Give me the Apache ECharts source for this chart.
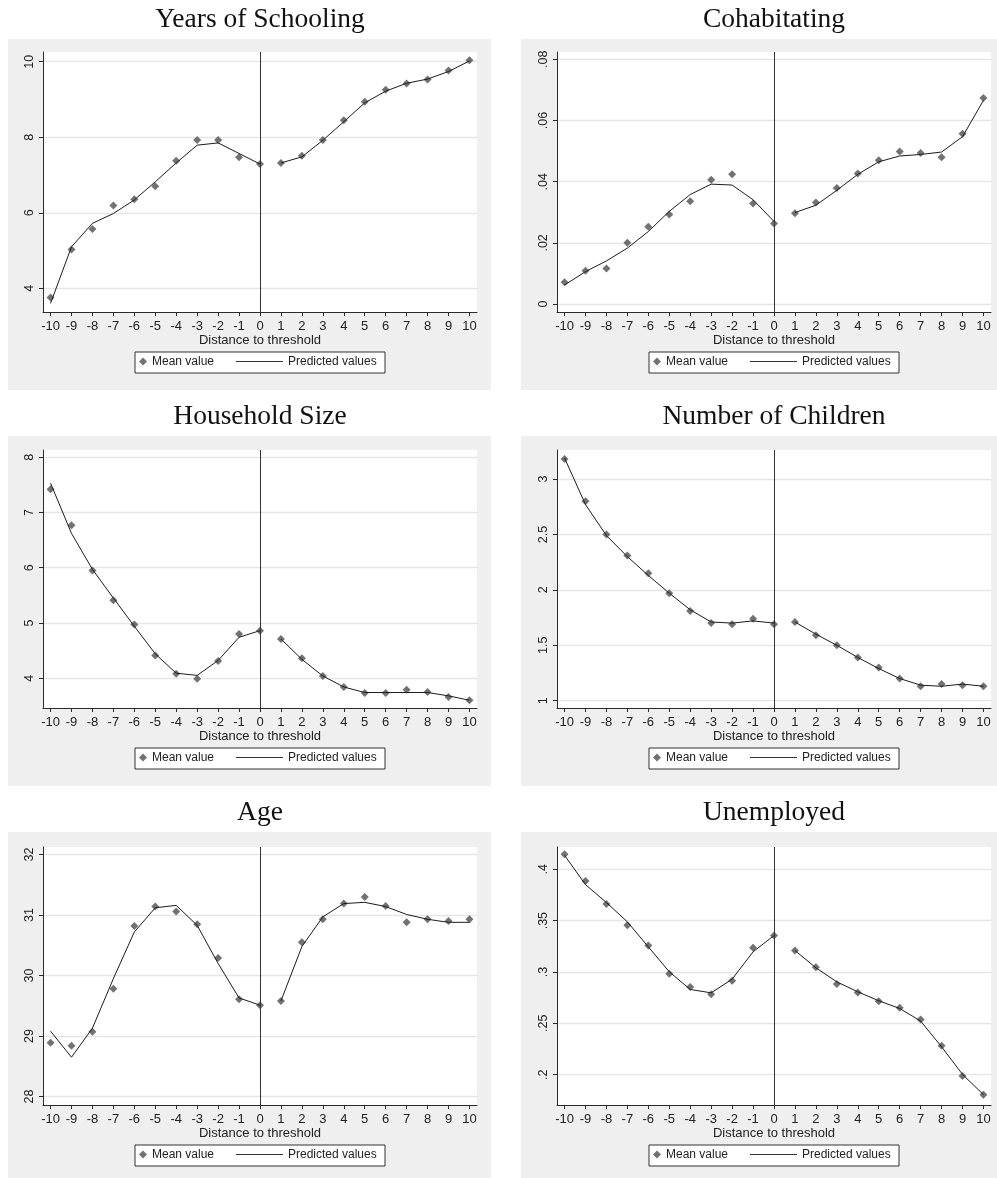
<!DOCTYPE html>
<html>
<head>
<meta charset="utf-8">
<script src="https://cdn.jsdelivr.net/npm/echarts@6/dist/echarts.min.js"></script>
<style>
  html, body { margin: 0; padding: 0; background: #ffffff; }
  #chart { width: 997px; height: 1178px; }
</style>
</head>
<body>
<div id="chart"></div>
<script>
// Distance to the eligibility threshold (running variable)
const distance = [-10, -9, -8, -7, -6, -5, -4, -3, -2, -1, 0, 1, 2, 3, 4, 5, 6, 7, 8, 9, 10];

// Years of schooling
const schoolingMean = [3.76, 5.03, 5.57, 6.19, 6.36, 6.70, 7.38, 7.93, 7.93, 7.47, 7.29, 7.32, 7.51, 7.93, 8.45, 8.94, 9.26, 9.42, 9.53, 9.77, 10.04];
const schoolingFit  = [3.60, 5.10, 5.72, 5.98, 6.34, 6.82, 7.32, 7.79, 7.85, 7.57, 7.29, 7.32, 7.48, 7.92, 8.41, 8.91, 9.22, 9.43, 9.54, 9.74, 10.02];
const schoolingTicks = [4, 6, 8, 10];

// Cohabitating share
const cohabMean = [0.0071, 0.0109, 0.0116, 0.0200, 0.0253, 0.0293, 0.0336, 0.0406, 0.0424, 0.0329, 0.0263, 0.0297, 0.0332, 0.0379, 0.0427, 0.0470, 0.0499, 0.0494, 0.0480, 0.0557, 0.0674];
const cohabFit  = [0.0062, 0.0106, 0.0141, 0.0183, 0.0237, 0.0303, 0.0358, 0.0392, 0.0389, 0.0341, 0.0270, 0.0299, 0.0323, 0.0372, 0.0424, 0.0465, 0.0484, 0.0489, 0.0497, 0.0547, 0.0666];
const cohabTicks = [0, 0.02, 0.04, 0.06, 0.08];

// Household size
const householdMean = [7.42, 6.77, 5.95, 5.41, 4.97, 4.41, 4.08, 3.99, 4.31, 4.80, 4.86, 4.71, 4.36, 4.04, 3.84, 3.73, 3.73, 3.79, 3.75, 3.66, 3.60];
const householdFit  = [7.53, 6.62, 5.97, 5.45, 4.94, 4.44, 4.09, 4.05, 4.32, 4.74, 4.86, 4.71, 4.34, 4.04, 3.84, 3.74, 3.74, 3.74, 3.74, 3.68, 3.60];
const householdTicks = [4, 5, 6, 7, 8];

// Number of children
const childrenMean = [3.18, 2.80, 2.50, 2.31, 2.15, 1.97, 1.81, 1.70, 1.69, 1.74, 1.69, 1.71, 1.59, 1.50, 1.39, 1.30, 1.20, 1.13, 1.15, 1.14, 1.13];
const childrenFit  = [3.19, 2.77, 2.49, 2.30, 2.13, 1.97, 1.82, 1.71, 1.70, 1.72, 1.70, 1.71, 1.60, 1.50, 1.39, 1.29, 1.20, 1.14, 1.13, 1.15, 1.13];
const childrenTicks = [1, 1.5, 2, 2.5, 3];

// Age
const ageMean = [28.89, 28.84, 29.07, 29.78, 30.82, 31.14, 31.06, 30.85, 30.29, 29.61, 29.51, 29.58, 30.55, 30.93, 31.19, 31.30, 31.15, 30.88, 30.93, 30.90, 30.93];
const ageFit  = [29.08, 28.65, 29.13, 29.95, 30.72, 31.12, 31.16, 30.83, 30.20, 29.63, 29.51, 29.58, 30.48, 30.97, 31.19, 31.21, 31.14, 31.01, 30.93, 30.88, 30.88];
const ageTicks = [28, 29, 30, 31, 32];

// Unemployed share
const unemployedMean = [0.4146, 0.3887, 0.3663, 0.3455, 0.3258, 0.2982, 0.2853, 0.2784, 0.2914, 0.3235, 0.3355, 0.3209, 0.3047, 0.2882, 0.2801, 0.2716, 0.2652, 0.2538, 0.2282, 0.1987, 0.1806];
const unemployedFit  = [0.4136, 0.3851, 0.3676, 0.3488, 0.3245, 0.3002, 0.2830, 0.2797, 0.2930, 0.3196, 0.3355, 0.3209, 0.3041, 0.2904, 0.2807, 0.2720, 0.2645, 0.2522, 0.2272, 0.2003, 0.1806];
const unemployedTicks = [0.2, 0.25, 0.3, 0.35, 0.4];

const titles = ['Years of Schooling', 'Cohabitating', 'Household Size', 'Number of Children', 'Age', 'Unemployed'];

const panels = [
  { title: titles[0], mean: schoolingMean,  fit: schoolingFit,  ticks: schoolingTicks,  yMin: 3.373,   yMax: 10.257 },
  { title: titles[1], mean: cohabMean,      fit: cohabFit,      ticks: cohabTicks,      yMin: -0.0026, yMax: 0.0824 },
  { title: titles[2], mean: householdMean,  fit: householdFit,  ticks: householdTicks,  yMin: 3.46,    yMax: 8.13 },
  { title: titles[3], mean: childrenMean,   fit: childrenFit,   ticks: childrenTicks,   yMin: 0.934,   yMax: 3.262 },
  { title: titles[4], mean: ageMean,        fit: ageFit,        ticks: ageTicks,        yMin: 27.86,   yMax: 32.125 },
  { title: titles[5], mean: unemployedMean, fit: unemployedFit, ticks: unemployedTicks, yMin: 0.1705,  yMax: 0.4217 }
];

// Page layout: two columns, three rows of Stata-style panels
const cols = [
  { box: [8, 491],  plot: [43, 477] },
  { box: [521, 997], plot: [557, 991] }
];
const rows = [
  { box: [39, 390],   plot: [52, 312] },
  { box: [436, 786],  plot: [450, 708] },
  { box: [832, 1178], plot: [847, 1105] }
];

const AXIS = '#2b2b2b';
const TEXT = '#222222';
const GRID = '#e6e6e6';
const BG = '#efefef';
const SANS = '"Liberation Sans", Arial, sans-serif';

// Stata drops the leading zero on decimals (.02, .25 ...)
function stataLabel(v) {
  const s = String(+v.toFixed(4));
  return s.replace(/^0\./, '.').replace(/^-0\./, '-.');
}

const grids = [], xAxes = [], yAxes = [], series = [], legends = [], graphics = [];

panels.forEach((p, i) => {
  const c = cols[i % 2];
  const r = rows[Math.floor(i / 2)];
  const cx = (c.plot[0] + c.plot[1]) / 2;

  // panel background and plot region
  graphics.push({
    type: 'rect', z: -2, silent: true,
    shape: { x: c.box[0], y: r.box[0], width: c.box[1] - c.box[0], height: r.box[1] - r.box[0] },
    style: { fill: BG }
  });
  graphics.push({
    type: 'rect', z: -1, silent: true,
    shape: { x: c.plot[0], y: r.plot[0], width: c.plot[1] - c.plot[0], height: r.plot[1] - r.plot[0] },
    style: { fill: '#ffffff' }
  });
  // panel title
  graphics.push({
    type: 'text', z: 5, silent: true,
    x: cx, y: r.box[0] - 19.5,
    style: {
      text: p.title, fill: '#111111',
      font: '27.5px "Liberation Serif", "Times New Roman", serif',
      align: 'center', verticalAlign: 'middle'
    }
  });
  // legend frame
  const ly = r.plot[1] + 50.5;
  graphics.push({
    type: 'rect', z: 3, silent: true,
    shape: { x: cx - 125, y: ly - 10.5, width: 250, height: 21 },
    style: { fill: '#ffffff', stroke: '#333333', lineWidth: 1 }
  });

  grids.push({
    left: c.plot[0], top: r.plot[0],
    width: c.plot[1] - c.plot[0], height: r.plot[1] - r.plot[0],
    containLabel: false
  });

  xAxes.push({
    type: 'value', gridIndex: i,
    min: -10.36, max: 10.36,
    name: 'Distance to threshold', nameLocation: 'middle', nameGap: 16,
    nameTextStyle: { color: TEXT, fontFamily: SANS, fontSize: 13 },
    axisLine: { show: true, onZero: false, lineStyle: { color: AXIS, width: 1 } },
    axisTick: { show: true, length: 4, lineStyle: { color: AXIS }, customValues: distance },
    axisLabel: {
      color: TEXT, fontFamily: SANS, fontSize: 13,
      margin: 8, customValues: distance, formatter: v => String(v)
    },
    splitLine: { show: false }
  });

  yAxes.push({
    type: 'value', gridIndex: i,
    min: p.yMin, max: p.yMax,
    axisLine: { show: true, onZero: false, lineStyle: { color: AXIS, width: 1 } },
    axisTick: { show: true, length: 4, lineStyle: { color: AXIS }, customValues: p.ticks },
    axisLabel: {
      color: TEXT, fontFamily: SANS, fontSize: 12.5,
      rotate: 90, margin: 7, customValues: p.ticks, formatter: stataLabel
    },
    splitLine: { show: true, lineStyle: { color: GRID, width: 1.3 } }
  });

  const meanPts = distance.map((d, k) => [d, p.mean[k]]);
  const fitPts = distance.map((d, k) => [d, p.fit[k]]);

  series.push({
    name: 'Mean value', type: 'scatter', xAxisIndex: i, yAxisIndex: i,
    symbol: 'diamond', symbolSize: 8, z: 2,
    itemStyle: { color: '#4f4f4f' },
    data: meanPts
  });
  series.push({
    name: 'Predicted values', type: 'line', xAxisIndex: i, yAxisIndex: i,
    symbol: 'none', z: 3,
    lineStyle: { color: '#1c1c1c', width: 1 },
    data: fitPts.filter(pt => pt[0] <= 0),
    markLine: {
      silent: true, symbol: 'none', animation: false,
      label: { show: false },
      lineStyle: { color: '#333333', width: 1, type: 'solid' },
      data: [{ xAxis: 0 }]
    }
  });
  series.push({
    name: 'Predicted values', type: 'line', xAxisIndex: i, yAxisIndex: i,
    symbol: 'none', z: 3,
    lineStyle: { color: '#1c1c1c', width: 1 },
    data: fitPts.filter(pt => pt[0] > 0)
  });

  const legendText = { color: TEXT, fontFamily: SANS, fontSize: 12 };
  legends.push({
    data: ['Mean value'], selectedMode: false, z: 4,
    left: cx - 121, top: ly - 7, padding: 0,
    itemWidth: 8, itemHeight: 8, textStyle: legendText
  });
  legends.push({
    data: [{ name: 'Predicted values', icon: 'rect', itemStyle: { color: '#333333' } }],
    selectedMode: false, z: 4,
    left: cx - 24, top: ly - 7, padding: 0,
    itemWidth: 47, itemHeight: 1.2, textStyle: legendText
  });
});

const chart = echarts.init(document.getElementById('chart'), null, { renderer: 'canvas' });
chart.setOption({
  animation: false,
  backgroundColor: '#ffffff',
  grid: grids,
  xAxis: xAxes,
  yAxis: yAxes,
  legend: legends,
  graphic: graphics,
  series: series
});
</script>
</body>
</html>
